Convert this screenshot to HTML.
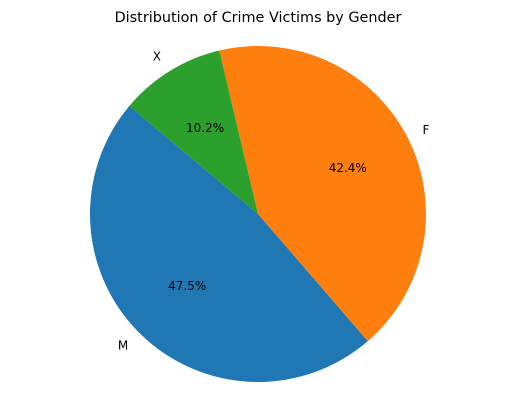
<!DOCTYPE html>
<html><head><meta charset="utf-8"><style>body{margin:0;background:#fff}svg{display:block}text{font-family:"DejaVu Sans","Liberation Sans",sans-serif}</style></head>
<body>
<svg id="chart" width="515" height="409" viewBox="0 0 515 409">
<text x="258" y="22" text-anchor="middle" font-size="14.4">Distribution of Crime Victims by Gender</text>
<g id="slices"></g>
</svg>
<script>
const categories = ["M", "F", "X"];
const values = [47.5, 42.4, 10.2];
const colors = ["#1f77b4", "#ff7f0e", "#2ca02c"];
const startAngle = 140;
const cx = 258, cy = 214, r = 168;
const g = document.getElementById('slices');
const ns = 'http://www.w3.org/2000/svg';
const total = values.reduce((a, b) => a + b, 0);
function pt(deg, rr) { const a = deg * Math.PI / 180; return [cx + rr * Math.cos(a), cy - rr * Math.sin(a)]; }
let ang = startAngle;
values.forEach((v, i) => {
  const sweep = v / total * 360;
  const a0 = ang, a1 = ang + sweep;
  const p0 = pt(a0, r), p1 = pt(a1, r);
  const path = document.createElementNS(ns, 'path');
  path.setAttribute('d', `M${cx},${cy} L${p0[0]},${p0[1]} A${r},${r} 0 ${sweep > 180 ? 1 : 0} 0 ${p1[0]},${p1[1]} Z`);
  path.setAttribute('fill', colors[i]);
  
  
  g.appendChild(path);
  const mid = (a0 + a1) / 2;
  const lp = pt(mid, r * 1.1);
  const lab = document.createElementNS(ns, 'text');
  lab.setAttribute('x', lp[0]); lab.setAttribute('y', lp[1] + 4);
  lab.setAttribute('font-size', '12');
  lab.setAttribute('text-anchor', Math.cos(mid * Math.PI / 180) < 0 ? 'end' : 'start');
  lab.textContent = categories[i];
  
  
  g.appendChild(lab);
  const pp = pt(mid, r * 0.6);
  const pct = document.createElementNS(ns, 'text');
  pct.setAttribute('x', pp[0]); pct.setAttribute('y', pp[1] + 4);
  pct.setAttribute('font-size', '12');
  pct.setAttribute('text-anchor', 'middle');
  pct.textContent = (v / total * 100).toFixed(1) + '%';
  
  
  g.appendChild(pct);
  ang = a1;
});
</script>
</body></html>
